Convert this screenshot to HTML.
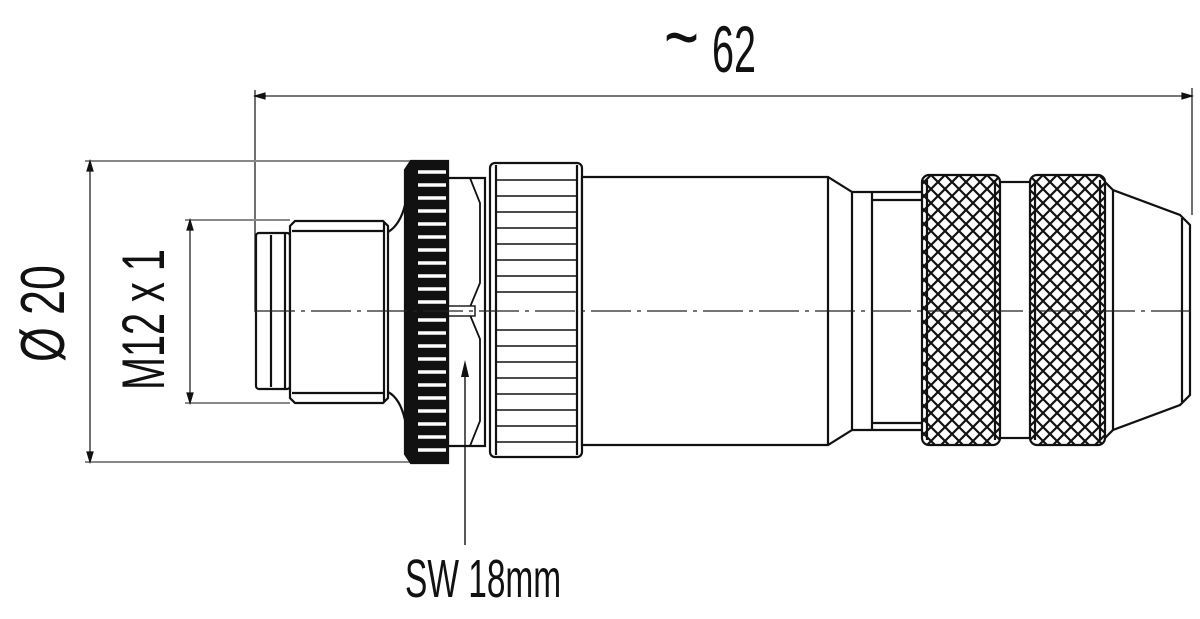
<!DOCTYPE html>
<html><head><meta charset="utf-8"><style>
html,body{margin:0;padding:0;background:#fff;width:1200px;height:619px;overflow:hidden}
svg{display:block}
text{font-family:"Liberation Sans",sans-serif;fill:#111}
</style></head><body>
<svg width="1200" height="619" viewBox="0 0 1200 619" xmlns="http://www.w3.org/2000/svg">
<defs>
<pattern id="kn" width="14" height="14" patternUnits="userSpaceOnUse">
<rect width="14" height="14" fill="#fff"/>
<path d="M0,0 L14,14 M14,0 L0,14 M-7,7 L7,21 M7,-7 L21,7 M7,21 L21,7 M-7,7 L7,-7" stroke="#111" stroke-width="2.2"/>
</pattern>
</defs>
<g stroke="#111" fill="none" stroke-width="1.2">
<line x1="255" y1="96" x2="1192" y2="96" stroke="#777" stroke-width="2"/>
<line x1="255" y1="90" x2="255" y2="312"/>
<line x1="1192" y1="88" x2="1192" y2="215"/>
<path d="M255,96 l10,-3 v6 z M1192,96 l-10,-3 v6 z" fill="#111"/>
<line x1="90" y1="160" x2="90" y2="462"/>
<line x1="85" y1="161" x2="410" y2="161" stroke="#888" stroke-width="2"/>
<line x1="85" y1="462" x2="410" y2="462" stroke="#888" stroke-width="2"/>
<path d="M90,161 l-3,10 h6 z M90,462 l-3,-10 h6 z" fill="#111"/>
<line x1="190" y1="220" x2="190" y2="403"/>
<line x1="185" y1="220" x2="290" y2="220" stroke="#888" stroke-width="2"/>
<line x1="185" y1="403" x2="290" y2="403" stroke="#888" stroke-width="2"/>
<path d="M190,220 l-3,10 h6 z M190,403 l-3,-10 h6 z" fill="#111"/>
</g>
<g stroke="#111" fill="#fff" stroke-width="2.2">
<rect x="256" y="233" width="34" height="156" rx="3"/>
<line x1="271" y1="235" x2="271" y2="387"/>
<line x1="285" y1="233" x2="285" y2="389"/>
<path d="M290,226 l5,-5 h88 l5,5 v172 l-5,5 h-88 l-5,-5 z"/>
<line x1="384" y1="222" x2="384" y2="402"/>
<line x1="292" y1="231" x2="384" y2="231"/>
<line x1="292" y1="393" x2="384" y2="393"/>
<path d="M388,232 Q400,225 405,205 M388,392 Q400,398 405,420" fill="none"/>
<path d="M448,178 h37 v268 h-37 z"/>
<path d="M470,178 l10,25 v80 l-10,24 M470,446 l10,-25 v-82 l-10,-24" fill="none" stroke-width="1.8"/>
<rect x="420" y="306" width="55" height="10" stroke-width="1.4"/>
<path d="M405,170 l6,-9 h37 v302 h-37 l-6,-9 z" fill="#111"/>
<g stroke="#fff" stroke-width="3.5">
<line x1="418" y1="172" x2="446" y2="172"/><line x1="418" y1="185" x2="446" y2="185"/><line x1="418" y1="198" x2="446" y2="198"/><line x1="418" y1="211" x2="446" y2="211"/><line x1="418" y1="224" x2="446" y2="224"/><line x1="418" y1="237" x2="446" y2="237"/><line x1="418" y1="250" x2="446" y2="250"/><line x1="418" y1="263" x2="446" y2="263"/><line x1="418" y1="276" x2="446" y2="276"/><line x1="418" y1="289" x2="446" y2="289"/><line x1="418" y1="302" x2="446" y2="302"/><line x1="418" y1="320" x2="446" y2="320"/><line x1="418" y1="333" x2="446" y2="333"/><line x1="418" y1="346" x2="446" y2="346"/><line x1="418" y1="359" x2="446" y2="359"/><line x1="418" y1="372" x2="446" y2="372"/><line x1="418" y1="385" x2="446" y2="385"/><line x1="418" y1="398" x2="446" y2="398"/><line x1="418" y1="411" x2="446" y2="411"/><line x1="418" y1="424" x2="446" y2="424"/><line x1="418" y1="437" x2="446" y2="437"/><line x1="418" y1="450" x2="446" y2="450"/>
</g>
<rect x="490" y="163" width="92" height="294" rx="5"/>
<line x1="496" y1="165" x2="496" y2="455"/><line x1="577" y1="165" x2="577" y2="455"/>
<g stroke-width="1.6">
<line x1="496" y1="180" x2="577" y2="180"/><line x1="496" y1="196" x2="577" y2="196"/><line x1="496" y1="212" x2="577" y2="212"/><line x1="496" y1="228" x2="577" y2="228"/><line x1="496" y1="244" x2="577" y2="244"/><line x1="496" y1="260" x2="577" y2="260"/><line x1="496" y1="276" x2="577" y2="276"/><line x1="496" y1="292" x2="577" y2="292"/><line x1="496" y1="330" x2="577" y2="330"/><line x1="496" y1="346" x2="577" y2="346"/><line x1="496" y1="362" x2="577" y2="362"/><line x1="496" y1="378" x2="577" y2="378"/><line x1="496" y1="394" x2="577" y2="394"/><line x1="496" y1="410" x2="577" y2="410"/><line x1="496" y1="426" x2="577" y2="426"/><line x1="496" y1="442" x2="577" y2="442"/>
</g>
<path d="M582,177 h246 l24,15 v238 l-24,15 h-246 z"/>
<line x1="828" y1="177" x2="828" y2="445"/>
<line x1="852" y1="192" x2="922" y2="192"/>
<line x1="852" y1="430" x2="922" y2="430"/>
<line x1="872" y1="192" x2="872" y2="430"/>
<line x1="872" y1="200" x2="922" y2="200"/>
<line x1="872" y1="423" x2="922" y2="423"/>
<rect x="998" y="182" width="34" height="256"/>
<path d="M1103,180 l10,10 l67,25 l10,10 v170 l-10,10 l-67,25 l-10,10 z"/>
<line x1="1113" y1="190" x2="1113" y2="430"/>
<line x1="1182" y1="218" x2="1182" y2="402"/>
<rect x="922" y="175" width="78" height="270" rx="7" fill="url(#kn)"/>
<line x1="927" y1="180" x2="927" y2="440"/><line x1="995" y1="180" x2="995" y2="440"/>
<rect x="1030" y="175" width="75" height="270" rx="7" fill="url(#kn)"/>
<line x1="1035" y1="180" x2="1035" y2="440"/><line x1="1100" y1="180" x2="1100" y2="440"/>
</g>
<line x1="255" y1="311" x2="1192" y2="311" stroke="#222" stroke-width="1.2" stroke-dasharray="40,6,4,6"/>
<line x1="465" y1="375" x2="465" y2="545" stroke="#111" stroke-width="1.4"/>
<path d="M465,360 l-4,17 h8 z" fill="#111"/>
<text x="0" y="0" font-size="80" transform="translate(664,64) scale(0.75,1)">~</text>
<text x="0" y="0" font-size="66" transform="translate(712,72) scale(0.6,1)">62</text>
<text x="0" y="0" font-size="54" transform="translate(405,597) scale(0.62,1)">SW 18mm</text>
<text x="0" y="0" font-size="62" transform="translate(64,362) rotate(-90) scale(0.72,1)">Ø 20</text>
<text x="0" y="0" font-size="60" transform="translate(164,390) rotate(-90) scale(0.66,1)">M12 x 1</text>
</svg>
</body></html>
